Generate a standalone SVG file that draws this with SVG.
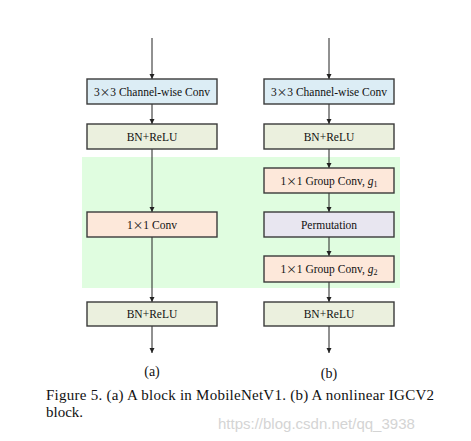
<svg xmlns="http://www.w3.org/2000/svg" width="471" height="441" viewBox="0 0 471 441">
<style>
.box{stroke:#3a3a3a;stroke-width:1.4}
.blue{fill:#dcedf5}
.bn{fill:#ebf0de}
.peach{fill:#fde8da}
.perm{fill:#e8e6f0}
.t{font-family:"Liberation Serif","Times New Roman",serif;font-size:11.5px;fill:#111;text-anchor:middle}
.x{font-family:"Noto Sans CJK SC","Liberation Serif",serif;font-size:10.5px}
.lbl{font-family:"Liberation Serif","Times New Roman",serif;font-size:14px;fill:#111;text-anchor:middle}
.cap{font-family:"Liberation Serif","Times New Roman",serif;font-size:15px;fill:#111}
.wm{font-family:"Liberation Sans",Arial,sans-serif;font-size:15px;fill:#d4d4d4}
.ar{stroke:#222;stroke-width:1;fill:none;marker-end:url(#ah)}
</style>
<defs>
<marker id="ah" markerWidth="6" markerHeight="6" refX="5" refY="3" orient="auto" markerUnits="userSpaceOnUse">
<path d="M0,0.5 L5,3 L0,5.5 Z" fill="#222"/>
</marker>
</defs>
<rect width="471" height="441" fill="#fff"/>
<rect id="green-region" x="82" y="157" width="318" height="131" fill="#e0fde0"/>
<g id="connectors">
<line class="ar" x1="152" y1="38" x2="152" y2="79"/>
<line class="ar" x1="152" y1="104" x2="152" y2="124"/>
<line class="ar" x1="152" y1="149" x2="152" y2="212"/>
<line class="ar" x1="152" y1="237" x2="152" y2="302"/>
<line class="ar" x1="152" y1="326" x2="152" y2="353"/>
<line class="ar" x1="329" y1="38" x2="329" y2="79"/>
<line class="ar" x1="329" y1="104" x2="329" y2="124"/>
<line class="ar" x1="329" y1="149" x2="329" y2="168"/>
<line class="ar" x1="329" y1="193" x2="329" y2="212"/>
<line class="ar" x1="329" y1="237" x2="329" y2="256"/>
<line class="ar" x1="329" y1="282" x2="329" y2="302"/>
<line class="ar" x1="329" y1="326" x2="329" y2="353"/>
</g>
<g id="a-conv3">
<rect class="box blue" x="87" y="79" width="130" height="25"/>
<text class="t" x="152" y="95.5">3<tspan class="x">×</tspan>3 Channel-wise Conv</text>
</g>
<g id="a-bn1">
<rect class="box bn" x="87" y="124" width="130" height="25"/>
<text class="t" x="152" y="140.5">BN+ReLU</text>
</g>
<g id="a-conv1">
<rect class="box peach" x="87" y="212" width="130" height="25"/>
<text class="t" x="152" y="228.5">1<tspan class="x">×</tspan>1 Conv</text>
</g>
<g id="a-bn2">
<rect class="box bn" x="87" y="302" width="130" height="24"/>
<text class="t" x="152" y="318">BN+ReLU</text>
</g>
<g id="b-conv3">
<rect class="box blue" x="264" y="79" width="130" height="25"/>
<text class="t" x="329" y="95.5">3<tspan class="x">×</tspan>3 Channel-wise Conv</text>
</g>
<g id="b-bn1">
<rect class="box bn" x="264" y="124" width="130" height="25"/>
<text class="t" x="329" y="140.5">BN+ReLU</text>
</g>
<g id="b-gconv1">
<rect class="box peach" x="264" y="168" width="130" height="25"/>
<text class="t" x="329" y="184.5">1<tspan class="x">×</tspan>1 Group Conv, <tspan font-style="italic">g</tspan><tspan font-size="8" dy="2">1</tspan></text>
</g>
<g id="b-perm">
<rect class="box perm" x="264" y="212" width="130" height="25"/>
<text class="t" x="329" y="228.5">Permutation</text>
</g>
<g id="b-gconv2">
<rect class="box peach" x="264" y="256" width="130" height="26"/>
<text class="t" x="329" y="273">1<tspan class="x">×</tspan>1 Group Conv, <tspan font-style="italic">g</tspan><tspan font-size="8" dy="2">2</tspan></text>
</g>
<g id="b-bn2">
<rect class="box bn" x="264" y="302" width="130" height="24"/>
<text class="t" x="329" y="318">BN+ReLU</text>
</g>
<text class="lbl" x="152" y="376">(a)</text>
<text class="lbl" x="329" y="378">(b)</text>
<text class="cap" x="46" y="400" textLength="388" lengthAdjust="spacing">Figure 5. (a) A block in MobileNetV1.  (b) A nonlinear IGCV2</text>
<text class="cap" x="46" y="417">block.</text>
<text class="wm" x="218" y="429">https://blog.csdn.net/qq_3938</text>
</svg>
